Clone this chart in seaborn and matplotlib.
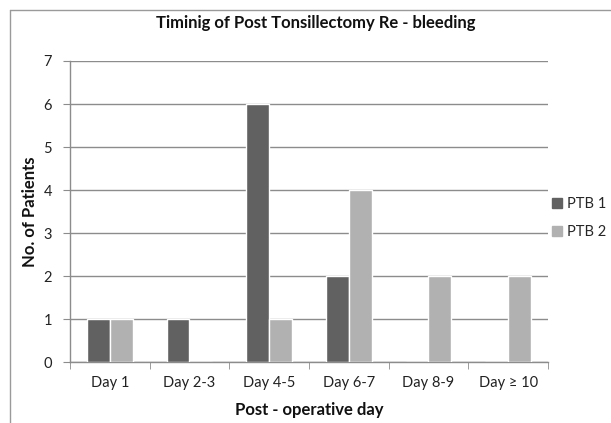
import matplotlib
matplotlib.use("Agg")
import matplotlib.pyplot as plt
import seaborn as sns
import pandas as pd
from matplotlib.lines import Line2D

categories = ["Day 1", "Day 2-3", "Day 4-5", "Day 6-7", "Day 8-9", "Day \u2265 10"]
ptb1 = [1, 1, 6, 2, 0, 0]
ptb2 = [1, 0, 1, 4, 2, 2]
series_names = ["PTB 1", "PTB 2"]
yticks = [0, 1, 2, 3, 4, 5, 6, 7]

df = pd.DataFrame({
    "day": categories * 2,
    "patients": ptb1 + ptb2,
    "series": [series_names[0]] * len(categories) + [series_names[1]] * len(categories),
})

sns.set_style("white")
plt.rcParams["font.family"] = ["Lato", "DejaVu Sans"]

fig = plt.figure(figsize=(6.11, 4.23), dpi=100)
W, H = 611, 423
ax = fig.add_axes([70 / W, 1 - 362 / H, (548 - 70) / W, (362 - 61) / H])

palette = {"PTB 1": "#616161", "PTB 2": "#b1b1b1"}
sns.barplot(data=df, x="day", y="patients", hue="series", palette=palette,
            width=0.575, ax=ax, saturation=1, zorder=3, legend=False)

ax.set_ylim(0, 7)
ax.set_xlim(-0.5, len(categories) - 0.5)
ax.set_yticks(yticks)
ax.yaxis.grid(True, color="#8c8c8c", linewidth=1, zorder=0)
ax.xaxis.grid(False)
for s in ["top", "right"]:
    ax.spines[s].set_visible(False)
for s in ["left", "bottom"]:
    ax.spines[s].set_color("#8c8c8c")
    ax.spines[s].set_linewidth(1)
ax.tick_params(axis="y", which="major", direction="out", length=5, color="#8c8c8c",
               labelsize=10.5, labelcolor="#222222", pad=8, left=True)
ax.tick_params(axis="x", which="major", length=0, labelsize=10.5, labelcolor="#222222", pad=10)
ax.set_xticks([i - 0.5 for i in range(len(categories) + 1)], minor=True)
ax.tick_params(axis="x", which="minor", direction="out", length=5, color="#8c8c8c", bottom=True)

ax.set_xlabel("Post - operative day", fontsize=12, fontweight="bold", labelpad=9, color="#111111")
ax.set_ylabel("No. of Patients", fontsize=12, fontweight="bold", labelpad=4, color="#111111")
fig.text(316 / W, 1 - 23 / H, "Timinig of Post Tonsillectomy Re - bleeding", ha="center", va="center",
         fontsize=12, fontweight="bold", color="#111111")

handles = [Line2D([0], [0], marker="s", linestyle="none", markersize=7,
                  markerfacecolor=palette[n], markeredgecolor=palette[n]) for n in series_names]
fig.legend(handles, series_names, loc="center left", bbox_to_anchor=(551 / W, 1 - 218 / H),
           frameon=False, fontsize=10.5, handletextpad=0.3, labelspacing=1.0, handlelength=0.8,
           borderpad=0, borderaxespad=0)

# outer frame (top and left edges visible)
fig.add_artist(Line2D([10 / W, 1], [1 - 10 / H, 1 - 10 / H], transform=fig.transFigure, color="#9a9a9a", linewidth=1))
fig.add_artist(Line2D([10 / W, 10 / W], [0, 1 - 10 / H], transform=fig.transFigure, color="#9a9a9a", linewidth=1))

fig.savefig("out.png", dpi=100)
